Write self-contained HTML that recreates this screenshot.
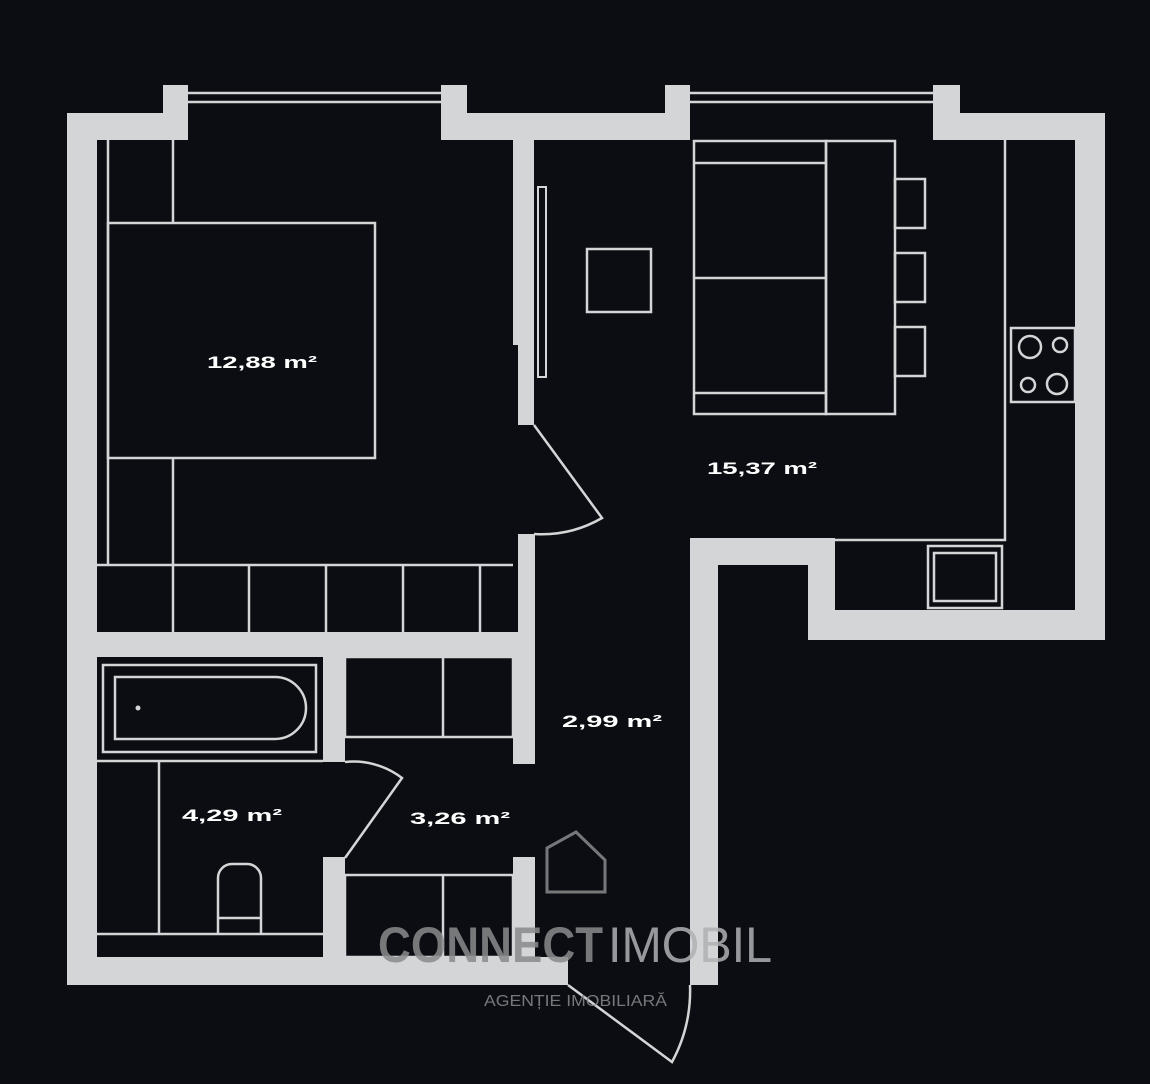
<!DOCTYPE html>
<html><head><meta charset="utf-8"><style>
html,body{margin:0;padding:0;background:#0b0d12;}
svg{display:block}
text{font-family:"Liberation Sans",sans-serif}
</style></head><body>
<svg width="1150" height="1084" viewBox="0 0 1150 1084" xmlns="http://www.w3.org/2000/svg">
<rect width="1150" height="1084" fill="#0b0d12"/>
<g fill="#d4d5d6">
<rect x="67" y="113" width="30" height="872"/>
<rect x="67" y="113" width="121" height="27"/>
<rect x="163" y="85" width="25" height="55"/>
<rect x="441" y="85" width="26" height="55"/>
<rect x="441" y="113" width="249" height="27"/>
<rect x="665" y="85" width="25" height="55"/>
<rect x="933" y="85" width="27" height="55"/>
<rect x="933" y="113" width="172" height="27"/>
<rect x="1075" y="113" width="30" height="527"/>
<rect x="808" y="610" width="297" height="30"/>
<rect x="808" y="538" width="27" height="102"/>
<rect x="690" y="538" width="145" height="27"/>
<rect x="690" y="538" width="28" height="447"/>
<rect x="67" y="957" width="501" height="28"/>
<rect x="513" y="140" width="21" height="205"/>
<rect x="518" y="340" width="16" height="85"/>
<rect x="518" y="534" width="17" height="123"/>
<rect x="97" y="632" width="438" height="25"/>
<rect x="323" y="657" width="22" height="105"/>
<rect x="323" y="857" width="22" height="100"/>
<rect x="513" y="657" width="22" height="107"/>
<rect x="513" y="857" width="22" height="100"/>
</g>
<g fill="none" stroke="#d4d5d6" stroke-width="2.5">
<line x1="188" y1="93" x2="441" y2="93"/><line x1="188" y1="102" x2="441" y2="102"/>
<line x1="690" y1="93" x2="933" y2="93"/><line x1="690" y1="102" x2="933" y2="102"/>
<line x1="108" y1="140" x2="108" y2="565"/>
<rect x="108" y="223" width="267" height="235"/>
<line x1="173" y1="140" x2="173" y2="223"/>
<line x1="173" y1="458" x2="173" y2="565"/>
<line x1="97" y1="565" x2="513" y2="565"/>
<line x1="173" y1="565" x2="173" y2="632"/>
<line x1="249" y1="565" x2="249" y2="632"/>
<line x1="326" y1="565" x2="326" y2="632"/>
<line x1="403" y1="565" x2="403" y2="632"/>
<line x1="480" y1="565" x2="480" y2="632"/>
<path d="M534 425 L602 518 A120 120 0 0 1 534 534"/>
<rect x="538" y="187" width="8" height="190" stroke-width="2"/>
<rect x="587" y="249" width="64" height="63"/>
<rect x="694" y="141" width="132" height="273"/>
<line x1="694" y1="163" x2="826" y2="163"/>
<line x1="694" y1="278" x2="826" y2="278"/>
<line x1="694" y1="393" x2="826" y2="393"/>
<rect x="826" y="141" width="69" height="273"/>
<rect x="895" y="179" width="30" height="49"/>
<rect x="895" y="253" width="30" height="49"/>
<rect x="895" y="327" width="30" height="49"/>
<polyline points="1005,140 1005,540 835,540"/>
<rect x="1011" y="328" width="64" height="74"/>
<circle cx="1030" cy="347" r="11"/><circle cx="1060" cy="345" r="7"/>
<circle cx="1028" cy="385" r="7"/><circle cx="1057" cy="384" r="10"/>
<rect x="928" y="546" width="74" height="62"/>
<rect x="934" y="553" width="62" height="48"/>
<rect x="103" y="665" width="213" height="87"/>
<path d="M115 677 H275 A31 31 0 0 1 275 739 H115 Z"/>
<line x1="97" y1="761" x2="323" y2="761"/>
<line x1="159" y1="761" x2="159" y2="934"/>
<line x1="97" y1="934" x2="323" y2="934"/>
<path d="M218 934 V878 A14 14 0 0 1 232 864 H247 A14 14 0 0 1 261 878 V934"/>
<line x1="218" y1="918" x2="261" y2="918"/>
<path d="M345 762 A80 80 0 0 1 402 778 L345 858"/>
<rect x="345" y="657" width="168" height="80"/>
<line x1="443" y1="657" x2="443" y2="737"/>
<rect x="345" y="875" width="168" height="82"/>
<line x1="443" y1="875" x2="443" y2="957"/>
<path d="M568 985 L672 1062 A150 150 0 0 0 690 985"/>
</g>
<circle cx="138" cy="708" r="2.5" fill="#d4d5d6"/>
<g fill="#ffffff" font-weight="bold" font-size="17" text-anchor="middle">
<text x="262" y="368" textLength="110" lengthAdjust="spacingAndGlyphs">12,88 m²</text>
<text x="762" y="474" textLength="110" lengthAdjust="spacingAndGlyphs">15,37 m²</text>
<text x="612" y="727" textLength="100" lengthAdjust="spacingAndGlyphs">2,99 m²</text>
<text x="232" y="821" textLength="100" lengthAdjust="spacingAndGlyphs">4,29 m²</text>
<text x="460" y="824" textLength="100" lengthAdjust="spacingAndGlyphs">3,26 m²</text>
</g>
<g opacity="0.85">
<path d="M547 892 V848 L576 832 L605 860 V892 Z" fill="none" stroke="#8a8b8d" stroke-width="3"/>
<text x="378" y="962" font-size="50" font-weight="bold" fill="#8a8b8d" textLength="225" lengthAdjust="spacingAndGlyphs">CONNECT</text>
<text x="608" y="962" font-size="50" fill="#b0b1b3" textLength="164" lengthAdjust="spacingAndGlyphs">IMOBIL</text>
<text x="484" y="1006" font-size="16" fill="#8a8b8d" textLength="183" lengthAdjust="spacingAndGlyphs">AGENȚIE IMOBILIARĂ</text>
</g>
</svg>
</body></html>
